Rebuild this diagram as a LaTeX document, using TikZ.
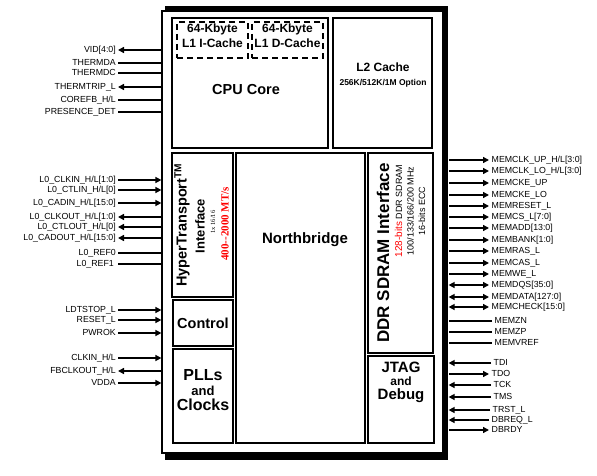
\documentclass[tikz,border=0pt]{standalone}
\usepackage{fontspec}
\setmainfont{Liberation Sans}
\newfontfamily\serifnum{Liberation Serif}
\usetikzlibrary{arrows.meta}
\newcommand{\bsize}[2]{\fontsize{#1}{#2}\selectfont}
\tikzset{
  blk/.style={draw,line width=2.2pt,inner sep=0pt},
  cache/.style={draw,line width=2pt,dash pattern=on 6pt off 4pt,inner sep=0pt},
  pinl/.style={anchor=east,inner sep=2pt,font=\bsize{8.8}{10},text height=6.4pt,text depth=1.6pt},
  pinr/.style={pinl,anchor=west,inner sep=2.5pt},
  wire/.style={line width=1.4pt},
  vtext/.style={rotate=90,inner sep=0pt}
}
\begin{document}
\begin{tikzpicture}[x=1pt,y=-1pt,>={Triangle[length=6pt,width=6pt]}]
  \useasboundingbox (0,0) rectangle (597,476);
  % chip outline on its black shadow
  \fill (165,6) rectangle (448,460);
  \node[draw,line width=1.2pt,fill=white,inner sep=0pt,minimum width=281pt,minimum height=442pt] (chip) at (302.5,232) {};
  \coordinate (redge) at ([xshift=5pt]chip.east);
  % blocks
  \node[blk,minimum width=156,minimum height=130] (cpu) at (250,83) {};
  \node[blk,minimum width=99,minimum height=130] (l2) at (382.5,83) {};
  \node[cache,minimum width=71,minimum height=36] (l1i) at (212.5,40) {};
  \node[cache,minimum width=71,minimum height=36] (l1d) at (287.5,40) {};
  \node[blk,minimum width=61,minimum height=144] (ht) at (202.5,225) {};
  \node[blk,minimum width=129,minimum height=290] (nb) at (300.5,298) {};
  \node[blk,minimum width=65,minimum height=200] (ddr) at (400.5,253) {};
  \node[blk,minimum width=60,minimum height=46] (ctl) at (203,323) {};
  \node[blk,minimum width=60,minimum height=94] (pll) at (203,396) {};
  \node[blk,minimum width=66,minimum height=87] (jtag) at (401,399.5) {};
  % block texts
  \node[font=\bfseries\bsize{12}{15},align=center] (l1itxt) at (212.5,36) {64-Kbyte\\L1 I-Cache};
  \node[font=\bfseries\bsize{12}{15},align=center] (l1dtxt) at (287.5,36) {64-Kbyte\\L1 D-Cache};
  \node[font=\bfseries\bsize{14.5}{17}] (cputxt) at (246,90) {CPU Core};
  \node[font=\bfseries\bsize{12}{14}] (l2txt) at (383,67) {L2 Cache};
  \node[font=\bfseries\bsize{8.5}{10}] (l2opt) at (383,83) {256K/512K/1M Option};
  \node[vtext,font=\bfseries\bsize{14.5}{18}] (httxt) at (182,225) {HyperTransport\textsuperscript{TM}};
  \node[vtext,font=\bfseries\bsize{13}{15}] (htif) at (200,226) {Interface};
  \node[vtext,font=\serifnum\bsize{6.5}{8}] (htwidth) at (213,222) {1x 16/16};
  \node[vtext,font=\serifnum\bfseries\bsize{11}{13},text=red] (htrate) at (225,224) {400--2000 MT/s};
  \node[font=\bfseries\bsize{15}{18}] (nbtxt) at (305,240) {Northbridge};
  \node[vtext,font=\bfseries\bsize{17}{20}] (ddrtxt) at (383,253) {DDR SDRAM Interface};
  \node[vtext,font=\bsize{9}{11.5},align=center] (ddrspec) at (410,211)
    {{\color{red}\bsize{10}{11.5}128-bits} DDR SDRAM\\100/133/166/200 MHz\\16-bits ECC};
  \node[font=\bfseries\bsize{14.5}{17}] (ctltxt) at (203,323) {Control};
  \node[font=\bfseries\bsize{16}{15},align=center] (plltxt) at (203,390)
    {PLLs\\{\bsize{13}{15}and}\\Clocks};
  \node[font=\bfseries\bsize{15}{13.5},align=center] (jtagtxt) at (401,382)
    {JTAG\\{\bsize{12}{13.5}and}\\Debug};
  % left pins
  \node[pinl] (vid) at (118,50) {VID[4:0]};
  \draw[wire,<-] (vid.east) -- (vid.east -| chip.west);
  \node[pinl] (thda) at (118,63) {THERMDA};
  \draw[wire] (thda.east) -- (thda.east -| chip.west);
  \node[pinl] (thdc) at (118,73) {THERMDC};
  \draw[wire] (thdc.east) -- (thdc.east -| chip.west);
  \node[pinl] (thtrip) at (118,87) {THERMTRIP\_L};
  \draw[wire,<-] (thtrip.east) -- (thtrip.east -| chip.west);
  \node[pinl] (corefb) at (118,100) {COREFB\_H/L};
  \draw[wire] (corefb.east) -- (corefb.east -| chip.west);
  \node[pinl] (presdet) at (118,112) {PRESENCE\_DET};
  \draw[wire] (presdet.east) -- (presdet.east -| chip.west);
  \node[pinl] (clkin0) at (118,180) {L0\_CLKIN\_H/L[1:0]};
  \draw[wire,->] (clkin0.east) -- (clkin0.east -| chip.west);
  \node[pinl] (ctlin0) at (118,190) {L0\_CTLIN\_H/L[0]};
  \draw[wire,->] (ctlin0.east) -- (ctlin0.east -| chip.west);
  \node[pinl] (cadin0) at (118,203) {L0\_CADIN\_H/L[15:0]};
  \draw[wire,->] (cadin0.east) -- (cadin0.east -| chip.west);
  \node[pinl] (clkout0) at (118,217) {L0\_CLKOUT\_H/L[1:0]};
  \draw[wire,<-] (clkout0.east) -- (clkout0.east -| chip.west);
  \node[pinl] (ctlout0) at (118,227) {L0\_CTLOUT\_H/L[0]};
  \draw[wire,<-] (ctlout0.east) -- (ctlout0.east -| chip.west);
  \node[pinl] (cadout0) at (118,238) {L0\_CADOUT\_H/L[15:0]};
  \draw[wire,<-] (cadout0.east) -- (cadout0.east -| chip.west);
  \node[pinl] (ref0) at (118,253) {L0\_REF0};
  \draw[wire] (ref0.east) -- (ref0.east -| chip.west);
  \node[pinl] (ref1) at (116,264) {L0\_REF1};
  \draw[wire] ([xshift=2pt]ref1.east) -- (ref1.east -| chip.west);
  \node[pinl] (ldtstop) at (118,310) {LDTSTOP\_L};
  \draw[wire,->] (ldtstop.east) -- (ldtstop.east -| chip.west);
  \node[pinl] (reset) at (118,320) {RESET\_L};
  \draw[wire,->] (reset.east) -- (reset.east -| chip.west);
  \node[pinl] (pwrok) at (118,333) {PWROK};
  \draw[wire,->] (pwrok.east) -- (pwrok.east -| chip.west);
  \node[pinl] (clkin) at (118,358) {CLKIN\_H/L};
  \draw[wire,->] (clkin.east) -- (clkin.east -| chip.west);
  \node[pinl] (fbclk) at (118,371) {FBCLKOUT\_H/L};
  \draw[wire,<-] (fbclk.east) -- (fbclk.east -| chip.west);
  \node[pinl] (vdda) at (118,383) {VDDA};
  \draw[wire,->] (vdda.east) -- (vdda.east -| chip.west);
  % right pins
  \node[pinr] (mclkup) at (489,160) {MEMCLK\_UP\_H/L[3:0]};
  \draw[wire,<-] (mclkup.west) -- (mclkup.west -| redge);
  \node[pinr] (mclklo) at (489,171) {MEMCLK\_LO\_H/L[3:0]};
  \draw[wire,<-] (mclklo.west) -- (mclklo.west -| redge);
  \node[pinr] (mckeup) at (489,183) {MEMCKE\_UP};
  \draw[wire,<-] (mckeup.west) -- (mckeup.west -| redge);
  \node[pinr] (mckelo) at (489,195) {MEMCKE\_LO};
  \draw[wire,<-] (mckelo.west) -- (mckelo.west -| redge);
  \node[pinr] (mreset) at (489,206) {MEMRESET\_L};
  \draw[wire,<-] (mreset.west) -- (mreset.west -| redge);
  \node[pinr] (mcs) at (489,217) {MEMCS\_L[7:0]};
  \draw[wire,<-] (mcs.west) -- (mcs.west -| redge);
  \node[pinr] (madd) at (489,228) {MEMADD[13:0]};
  \draw[wire,<-] (madd.west) -- (madd.west -| redge);
  \node[pinr] (mbank) at (489,240) {MEMBANK[1:0]};
  \draw[wire,<-] (mbank.west) -- (mbank.west -| redge);
  \node[pinr] (mras) at (489,251) {MEMRAS\_L};
  \draw[wire,<-] (mras.west) -- (mras.west -| redge);
  \node[pinr] (mcas) at (489,263) {MEMCAS\_L};
  \draw[wire,<-] (mcas.west) -- (mcas.west -| redge);
  \node[pinr] (mwe) at (489,274) {MEMWE\_L};
  \draw[wire,<-] (mwe.west) -- (mwe.west -| redge);
  \node[pinr] (mdqs) at (489,285) {MEMDQS[35:0]};
  \draw[wire,<->] (mdqs.west) -- (mdqs.west -| redge);
  \node[pinr] (mdata) at (489,297) {MEMDATA[127:0]};
  \draw[wire,<->] (mdata.west) -- (mdata.west -| redge);
  \node[pinr] (mcheck) at (489,307) {MEMCHECK[15:0]};
  \draw[wire,<->] (mcheck.west) -- (mcheck.west -| redge);
  \node[pinr] (mzn) at (492,321) {MEMZN};
  \draw[wire] (mzn.west) -- (mzn.west -| redge);
  \node[pinr] (mzp) at (492,332) {MEMZP};
  \draw[wire] (mzp.west) -- (mzp.west -| redge);
  \node[pinr] (mvref) at (492,343) {MEMVREF};
  \draw[wire] (mvref.west) -- (mvref.west -| redge);
  \node[pinr] (tdi) at (491,363) {TDI};
  \draw[wire,->] (tdi.west) -- (tdi.west -| redge);
  \node[pinr] (tdo) at (489,374) {TDO};
  \draw[wire,<-] (tdo.west) -- (tdo.west -| redge);
  \node[pinr] (tck) at (491,385) {TCK};
  \draw[wire,->] (tck.west) -- (tck.west -| redge);
  \node[pinr] (tms) at (491,397) {TMS};
  \draw[wire,->] (tms.west) -- (tms.west -| redge);
  \node[pinr] (trst) at (490,410) {TRST\_L};
  \draw[wire,->] (trst.west) -- (trst.west -| redge);
  \node[pinr] (dbreq) at (489,420) {DBREQ\_L};
  \draw[wire,->] (dbreq.west) -- (dbreq.west -| redge);
  \node[pinr] (dbrdy) at (489,430) {DBRDY};
  \draw[wire,<-] (dbrdy.west) -- (dbrdy.west -| redge);
\end{tikzpicture}
\end{document}
